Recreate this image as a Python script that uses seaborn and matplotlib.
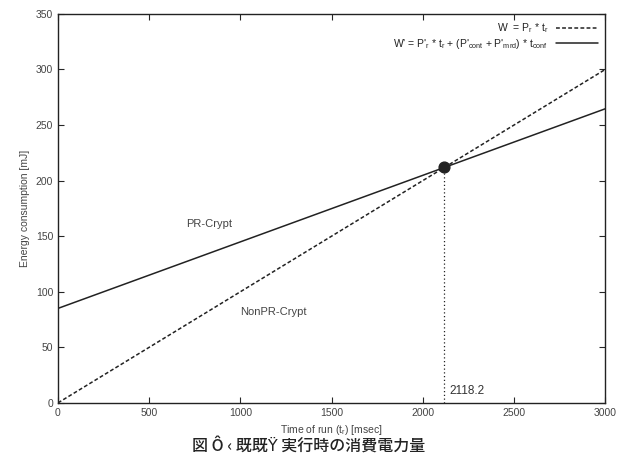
import numpy as np
import pandas as pd
import matplotlib
matplotlib.use('Agg')
import matplotlib.pyplot as plt
import seaborn as sns

# run time range [msec]
t_run = [0, 3000]
# NonPR-Crypt: W = P_r * t_r
p_r = 0.1
# PR-Crypt: W' = P'_r * t_r + (P'_cont + P'_mrd) * t_conf
w_offset = 85.0
p_r_pr = 0.05987
cross_t = 2118.2

sns.set_theme(style='ticks')
plt.rcParams['font.family'] = ['Liberation Sans', 'DejaVu Sans']
plt.rcParams['mathtext.fontset'] = 'custom'
plt.rcParams['mathtext.rm'] = 'Liberation Sans'
plt.rcParams['mathtext.it'] = 'Liberation Sans'

t = np.array(t_run, dtype=float)
df = pd.DataFrame({
    't': np.concatenate([t, t]),
    'W': np.concatenate([p_r * t, w_offset + p_r_pr * t]),
    'kind': ['non'] * 2 + ['pr'] * 2,
})
cross_w = p_r * cross_t

fig = plt.figure(figsize=(6.17, 4.62), dpi=100)
ax = fig.add_axes([0.094, 0.128, 0.887, 0.842])

sns.lineplot(data=df[df.kind == 'non'], x='t', y='W', ax=ax, color='#222222',
             lw=1.1, linestyle=(0, (2.5, 1.5)),
             label=r"W  = P$_r$ * t$_r$")
sns.lineplot(data=df[df.kind == 'pr'], x='t', y='W', ax=ax, color='#222222',
             lw=1.1,
             label=r"W' = P'$_r$ * t$_r$ + (P'$_{cont}$ + P'$_{mrd}$) * t$_{conf}$")

ax.plot([cross_t, cross_t], [0, cross_w], color='#222222', lw=0.9,
        linestyle=(0, (1, 2)))
ax.scatter([cross_t], [cross_w], s=60, color='#222222', zorder=5)
ax.text(cross_t + 30, 8, f'{cross_t}', fontsize=8.5, color='#333333')

ax.text(700, 158, 'PR-Crypt', fontsize=8, color='#444444')
ax.text(1000, 79, 'NonPR-Crypt', fontsize=8, color='#444444')

ax.set_xlim(0, 3000)
ax.set_ylim(0, 350)
ax.set_xticks(range(0, 3001, 500))
ax.set_yticks(range(0, 351, 50))
ax.tick_params(direction='in', top=True, right=True, labelsize=7.5,
               labelcolor='#444444', length=4, width=0.8)
for s in ax.spines.values():
    s.set_linewidth(1.0)
    s.set_color('#222222')
ax.set_xlabel(r'Time of run (t$_r$) [msec]', fontsize=7.5, color='#444444')
ax.set_ylabel('Energy consumption [mJ]', fontsize=7.5, color='#444444')

leg = ax.legend(loc='upper right', frameon=False, fontsize=7.5, markerfirst=False,
                handlelength=4, borderaxespad=0.3, labelspacing=0.2)
for txt in leg.get_texts():
    txt.set_color('#222222')

fig.text(0.5, 0.015, '図 Ô ‹ 既既Ÿ 実行時の消費電力量', ha='center', va='bottom',
         fontsize=11.5, color='#222222', fontweight='medium',
         family=['Noto Sans CJK JP', 'DejaVu Sans'])

fig.savefig('out.png', dpi=100)
